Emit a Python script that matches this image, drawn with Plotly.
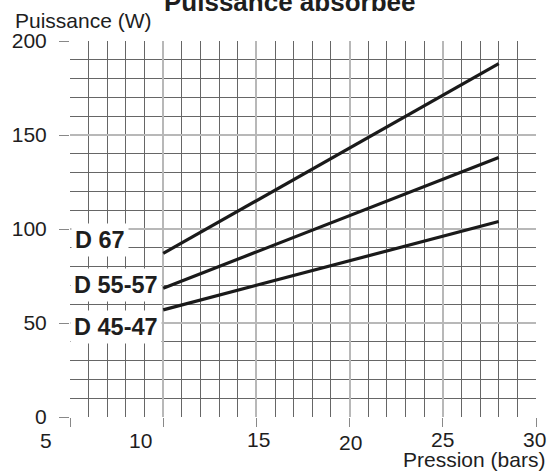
import plotly.graph_objects as go

# ---- data ----
pression = [10, 28]
d67 = [87, 188]
d55_57 = [68.5, 138]
d45_47 = [57, 104]
series_names = ["D 67", "D 55-57", "D 45-47"]
series_values = [d67, d55_57, d45_47]
x_ticks = [5, 10, 15, 20, 25, 30]
y_ticks = [0, 50, 100, 150, 200]

# ---- style ----
FONT = "Liberation Sans, Arial, sans-serif"
TXT = "#1e1e1e"
label_pos = [(6.62, 94.0), (7.45, 70.2), (7.45, 47.8)]
x_label_shift = {5: -24, 10: -23, 15: 2, 20: 1, 25: 0, 30: -2}
x_label_yshift = {5: -23, 10: -23, 15: -22, 20: -25, 25: -22, 30: -22}

fig = go.Figure()
for name, vals in zip(series_names, series_values):
    fig.add_trace(go.Scatter(x=pression, y=vals, mode="lines", name=name,
                             line=dict(color="#1a1a1a", width=3.2),
                             showlegend=False, hoverinfo="skip"))

annotations = []
for name, (lx, ly) in zip(series_names, label_pos):
    annotations.append(dict(x=lx, y=ly, xref="x", yref="y", text="<b>%s</b>" % name,
                            showarrow=False, font=dict(family=FONT, size=23.5, color=TXT),
                            bgcolor="white", borderpad=3, xanchor="center", yanchor="middle"))

for t in x_ticks:
    annotations.append(dict(x=t, y=0, xref="x", yref="y", text=str(t), showarrow=False,
                            font=dict(family=FONT, size=21, color=TXT),
                            xanchor="center", yanchor="middle",
                            xshift=x_label_shift[t], yshift=x_label_yshift[t]))

annotations.append(dict(x=0.471, y=1, xref="paper", yref="paper",
                        text="<b>Puissance absorbée</b>", showarrow=False,
                        font=dict(family=FONT, size=26, color=TXT),
                        xanchor="center", yanchor="bottom", yshift=22))
annotations.append(dict(x=-0.1215, y=1, xref="paper", yref="paper",
                        text="Puissance (W)", showarrow=False,
                        font=dict(family=FONT, size=21, color=TXT),
                        xanchor="left", yanchor="bottom", yshift=7))
annotations.append(dict(x=1.023, y=0, xref="paper", yref="paper",
                        text="Pression (bars)", showarrow=False,
                        font=dict(family=FONT, size=21, color=TXT),
                        xanchor="right", yanchor="top", yshift=-29))

fig.update_layout(
    width=552, height=473,
    margin=dict(l=67, r=16, t=41, b=56),
    paper_bgcolor="white", plot_bgcolor="white",
    font=dict(family=FONT, size=21, color=TXT),
    annotations=annotations,
)
fig.update_xaxes(range=[5, 30], tickvals=x_ticks, showticklabels=False,
                 ticks="outside", ticklen=9, tickcolor="#888", tickwidth=1,
                 showgrid=True, gridcolor="#b8b8b8", gridwidth=1.6,
                 minor=dict(dtick=1, showgrid=True, gridcolor="#666666", gridwidth=1),
                 zeroline=False, showline=False, fixedrange=True)
fig.update_yaxes(range=[0, 200], tickvals=y_ticks,
                 ticks="outside", ticklen=10, tickcolor="#888", tickwidth=1,
                 tickfont=dict(family=FONT, size=21, color=TXT),
                 ticklabelstandoff=8,
                 showgrid=True, gridcolor="#b8b8b8", gridwidth=1.6,
                 minor=dict(dtick=10, showgrid=True, gridcolor="#666666", gridwidth=1),
                 zeroline=False, showline=False, fixedrange=True)

fig.write_html("out.html", config={"displayModeBar": False},
               post_script="document.body.style.margin='0';")
